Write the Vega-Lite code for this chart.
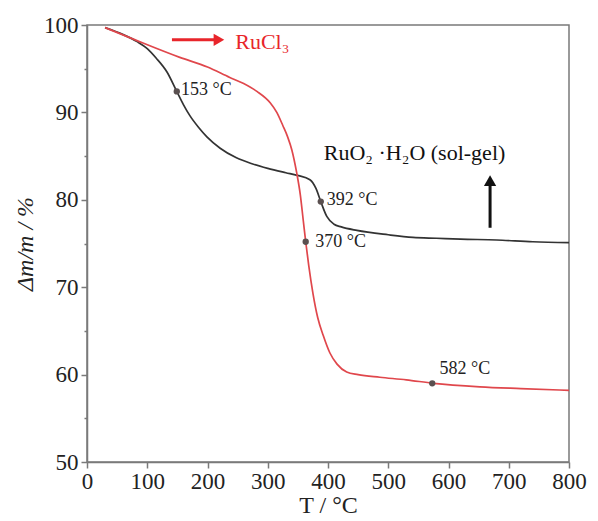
{
  "$schema": "https://vega.github.io/schema/vega-lite/v6.json",
  "width": 482,
  "height": 437,
  "autosize": {"type": "none"},
  "padding": {"left": 87, "top": 25, "right": 29, "bottom": 59},
  "background": "white",
  "resolve": {"scale": {"color": "independent"}},
  "config": {
    "view": {"stroke": "#7a7a7a", "strokeWidth": 1.5},
    "font": "Liberation Serif",
    "axis": {
      "labelFont": "Liberation Serif",
      "titleFont": "Liberation Serif",
      "labelFontSize": 23,
      "titleFontSize": 24,
      "labelColor": "#222",
      "titleColor": "#222",
      "titleFontWeight": "normal",
      "domainColor": "#7a7a7a",
      "domainWidth": 1.5,
      "tickColor": "#7a7a7a",
      "tickWidth": 1.5,
      "grid": false
    }
  },
  "datasets": {
    "curves": [
      {"sample": "RuO2", "T": 30, "m": 99.7},
      {"sample": "RuO2", "T": 60, "m": 98.9},
      {"sample": "RuO2", "T": 83, "m": 98.1},
      {"sample": "RuO2", "T": 100, "m": 97.3},
      {"sample": "RuO2", "T": 115, "m": 96.2},
      {"sample": "RuO2", "T": 133, "m": 94.6},
      {"sample": "RuO2", "T": 149, "m": 92.4},
      {"sample": "RuO2", "T": 160, "m": 90.9},
      {"sample": "RuO2", "T": 171, "m": 89.6},
      {"sample": "RuO2", "T": 185, "m": 88.3},
      {"sample": "RuO2", "T": 199, "m": 87.2},
      {"sample": "RuO2", "T": 221, "m": 85.9},
      {"sample": "RuO2", "T": 248, "m": 84.8},
      {"sample": "RuO2", "T": 275, "m": 84.1},
      {"sample": "RuO2", "T": 300, "m": 83.6},
      {"sample": "RuO2", "T": 330, "m": 83.1},
      {"sample": "RuO2", "T": 349, "m": 82.8},
      {"sample": "RuO2", "T": 370, "m": 82.3},
      {"sample": "RuO2", "T": 380, "m": 81.3},
      {"sample": "RuO2", "T": 388, "m": 79.8},
      {"sample": "RuO2", "T": 398, "m": 78.1},
      {"sample": "RuO2", "T": 410, "m": 77.2},
      {"sample": "RuO2", "T": 422, "m": 76.9},
      {"sample": "RuO2", "T": 448, "m": 76.5},
      {"sample": "RuO2", "T": 500, "m": 76.0},
      {"sample": "RuO2", "T": 541, "m": 75.7},
      {"sample": "RuO2", "T": 580, "m": 75.6},
      {"sample": "RuO2", "T": 620, "m": 75.5},
      {"sample": "RuO2", "T": 680, "m": 75.4},
      {"sample": "RuO2", "T": 740, "m": 75.2},
      {"sample": "RuO2", "T": 800, "m": 75.1},
      {"sample": "RuCl3", "T": 30, "m": 99.7},
      {"sample": "RuCl3", "T": 80, "m": 98.3},
      {"sample": "RuCl3", "T": 154, "m": 96.3},
      {"sample": "RuCl3", "T": 200, "m": 95.2},
      {"sample": "RuCl3", "T": 237, "m": 94.0},
      {"sample": "RuCl3", "T": 260, "m": 93.3},
      {"sample": "RuCl3", "T": 282, "m": 92.4},
      {"sample": "RuCl3", "T": 304, "m": 91.1},
      {"sample": "RuCl3", "T": 315, "m": 90.0},
      {"sample": "RuCl3", "T": 325, "m": 88.5},
      {"sample": "RuCl3", "T": 333, "m": 87.2},
      {"sample": "RuCl3", "T": 340, "m": 85.7},
      {"sample": "RuCl3", "T": 348, "m": 83.1},
      {"sample": "RuCl3", "T": 354, "m": 80.6},
      {"sample": "RuCl3", "T": 359, "m": 77.6},
      {"sample": "RuCl3", "T": 363, "m": 75.2},
      {"sample": "RuCl3", "T": 368, "m": 72.5},
      {"sample": "RuCl3", "T": 375, "m": 69.3},
      {"sample": "RuCl3", "T": 383, "m": 66.5},
      {"sample": "RuCl3", "T": 392, "m": 64.5},
      {"sample": "RuCl3", "T": 403, "m": 62.5},
      {"sample": "RuCl3", "T": 415, "m": 61.2},
      {"sample": "RuCl3", "T": 431, "m": 60.3},
      {"sample": "RuCl3", "T": 450, "m": 60.0},
      {"sample": "RuCl3", "T": 486, "m": 59.7},
      {"sample": "RuCl3", "T": 530, "m": 59.4},
      {"sample": "RuCl3", "T": 575, "m": 59.0},
      {"sample": "RuCl3", "T": 652, "m": 58.6},
      {"sample": "RuCl3", "T": 720, "m": 58.4},
      {"sample": "RuCl3", "T": 800, "m": 58.2}
    ],
    "markers": [
      {"T": 149, "m": 92.4, "label": "153 °C", "lx": 156, "ly": 92.6},
      {"T": 388, "m": 79.8, "label": "392 °C", "lx": 398, "ly": 80.0},
      {"T": 363, "m": 75.2, "label": "370 °C", "lx": 379, "ly": 75.2},
      {"T": 573, "m": 59.0, "label": "582 °C", "lx": 585, "ly": 60.6}
    ],
    "notes": [
      {"text": "RuCl₃", "x": 246, "y": 98.0, "col": "red"},
      {"text": "RuO₂ ·H₂O (sol-gel)", "x": 393, "y": 85.4, "col": "black"}
    ],
    "arrows": [
      {"col": "red", "x1": 141, "x2": 214, "y1": 98.3, "y2": 98.3},
      {"col": "black", "x1": 669, "x2": 669, "y1": 76.8, "y2": 81.6}
    ],
    "heads": [
      {"col": "red", "x": 219, "y": 98.3, "shape": "triangle-right"},
      {"col": "black", "x": 669, "y": 82.2, "shape": "triangle-up"}
    ]
  },
  "layer": [
    {
      "data": {"name": "curves"},
      "mark": {"type": "line", "strokeWidth": 1.7, "interpolate": "monotone"},
      "encoding": {
        "x": {
          "field": "T", "type": "quantitative",
          "scale": {"domain": [0, 800], "nice": false},
          "axis": {
            "title": "T / °C",
            "values": [0, 50, 100, 150, 200, 250, 300, 350, 400, 450, 500, 550, 600, 650, 700, 750, 800],
            "labelExpr": "datum.value % 100 === 0 ? datum.label : ''",
            "tickSize": {"condition": {"test": "datum.value % 100 === 0", "value": 6}, "value": 3},
            "labelPadding": 2,
            "titlePadding": 0,
            "labelFlush": false,
            "labelOverlap": false
          }
        },
        "y": {
          "field": "m", "type": "quantitative",
          "scale": {"domain": [50, 100], "nice": false, "zero": false},
          "axis": {
            "title": "Δm/m / %",
            "titleFontStyle": "italic",
            "values": [50, 55, 60, 65, 70, 75, 80, 85, 90, 95, 100],
            "labelExpr": "datum.value % 10 === 0 ? datum.label : ''",
            "tickSize": {"condition": {"test": "datum.value % 10 === 0", "value": 6}, "value": 3},
            "labelPadding": 3,
            "titlePadding": 6,
            "labelOverlap": false
          }
        },
        "color": {
          "field": "sample", "type": "nominal",
          "scale": {"domain": ["RuO2", "RuCl3"], "range": ["#333333", "#e0474c"]},
          "legend": null
        }
      }
    },
    {
      "data": {"name": "markers"},
      "mark": {"type": "point", "filled": true, "size": 40, "color": "#5a5050", "opacity": 1},
      "encoding": {
        "x": {"field": "T", "type": "quantitative"},
        "y": {"field": "m", "type": "quantitative"}
      }
    },
    {
      "data": {"name": "markers"},
      "mark": {"type": "text", "align": "left", "baseline": "middle", "fontSize": 18, "font": "Liberation Serif", "color": "#222"},
      "encoding": {
        "x": {"field": "lx", "type": "quantitative"},
        "y": {"field": "ly", "type": "quantitative"},
        "text": {"field": "label"}
      }
    },
    {
      "data": {"name": "notes"},
      "mark": {"type": "text", "align": "left", "baseline": "middle", "fontSize": 22, "font": "Liberation Serif"},
      "encoding": {
        "x": {"field": "x", "type": "quantitative"},
        "y": {"field": "y", "type": "quantitative"},
        "text": {"field": "text"},
        "color": {"field": "col", "type": "nominal", "scale": {"domain": ["red", "black"], "range": ["#e8252b", "#111111"]}, "legend": null}
      }
    },
    {
      "data": {"name": "arrows"},
      "mark": {"type": "rule", "strokeWidth": 3},
      "encoding": {
        "x": {"field": "x1", "type": "quantitative"},
        "x2": {"field": "x2"},
        "y": {"field": "y1", "type": "quantitative"},
        "y2": {"field": "y2"},
        "color": {"field": "col", "type": "nominal", "scale": {"domain": ["red", "black"], "range": ["#e8252b", "#111111"]}, "legend": null}
      }
    },
    {
      "data": {"name": "heads"},
      "mark": {"type": "point", "filled": true, "size": 150, "opacity": 1},
      "encoding": {
        "x": {"field": "x", "type": "quantitative"},
        "y": {"field": "y", "type": "quantitative"},
        "shape": {"field": "shape", "type": "nominal", "scale": null},
        "color": {"field": "col", "type": "nominal", "scale": {"domain": ["red", "black"], "range": ["#e8252b", "#111111"]}, "legend": null}
      }
    }
  ]
}
